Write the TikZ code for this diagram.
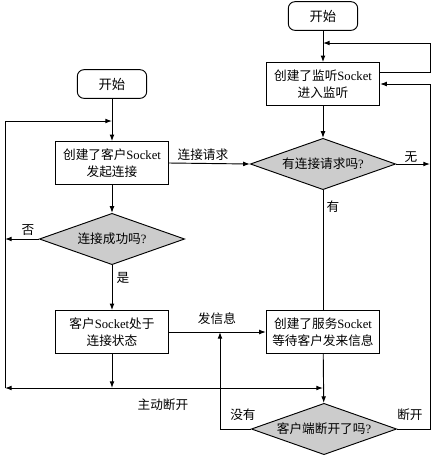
\documentclass[tikz,border=0pt]{standalone}
\usepackage{fontspec}
\setmainfont{Liberation Serif}
\newfontfamily\zh{Noto Sans CJK SC}
\usetikzlibrary{shapes.geometric,arrows.meta}

\begin{document}
\begin{tikzpicture}[x=0.75pt, y=-0.75pt]
    \tikzstyle{box}=[rectangle, draw=black, line width=0.7pt, fill=white, minimum width=85pt, minimum height=32pt, inner sep=1pt, align=center, font=\fontsize{9.5}{12.5}\selectfont]
    \tikzstyle{startbox}=[rectangle, rounded corners=5pt, draw=black, line width=0.7pt, minimum width=52pt, minimum height=21.5pt, inner sep=1pt, font=\fontsize{10}{12}\selectfont]
    \tikzstyle{decide}=[diamond, aspect=2.8, draw=black, line width=0.7pt, fill=black!20, minimum width=109pt, minimum height=38.5pt, inner sep=0pt, font=\fontsize{9.5}{12}\selectfont]
    \tikzstyle{arr}=[line width=0.7pt, -{Latex[length=5pt, width=3.6pt]}]
    \tikzstyle{line}=[line width=0.7pt]
    \tikzstyle{lbl}=[font=\fontsize{9.5}{12}\selectfont, inner sep=0pt]

    \useasboundingbox (0,0) rectangle (436,455);

    % server side
    \node[startbox] (sstart) at (323,16) {\zh 开始};
    \node[box] (listen) at (323,84) {{\zh 创建了监听}Socket\\{\zh 进入监听}};
    \node[decide] (askreq) at (323,164) {{\zh 有连接请求吗}?};
    \node[box] (serve) at (323,332) {{\zh 创建了服务}Socket\\{\zh 等待客户发来信息}};
    \node[decide] (askoff) at (324,429) {{\zh 客户端断开了吗}?};

    % client side
    \node[startbox] (cstart) at (112,84) {\zh 开始};
    \node[box] (client) at (112,163) {{\zh 创建了客户}Socket\\{\zh 发起连接}};
    \node[decide] (askok) at (112,239) {{\zh 连接成功吗}?};
    \node[box] (linked) at (112,332) {{\zh 客户}Socket{\zh 处于}\\{\zh 连接状态}};

    \coordinate (ltop) at (112,121);
    \coordinate (lbot) at (5,388);
    \coordinate (split) at (112,388);
    \coordinate (merge) at (323,388);
    \coordinate (stop) at (323,43);
    \coordinate (rbot) at (430,429);
    \coordinate (rtop) at (430,84);

    \draw[arr] (sstart) -- (listen);
    \draw[arr] (listen.east |- 0,72) -| (430,43) -- (stop);
    \draw[arr] (listen) -- (askreq);
    \draw[line] (askreq) -- (serve);
    \draw[arr] (askreq.east) -- (rtop |- askreq.east);
    \draw[arr] (serve) -- (askoff);
    \draw[arr] (askoff.east) -- (rbot) -- (rtop) -- (listen.east);
    \draw[arr] (askoff.west) -| (220,332);

    \draw[arr] (cstart) -- (client);
    \draw[arr] (lbot) |- (ltop);
    \draw[arr] (client.east) -- (askreq.west);
    \draw[arr] (client) -- (askok);
    \draw[arr] (askok.west) -- (lbot |- askok.west);
    \draw[arr] (askok) -- (linked);
    \draw[arr] (linked.east) -- (serve.west);
    \draw[arr] (linked) -- (split);
    \draw[arr] (split) -- (lbot);
    \draw[arr] (split) -- (merge);

    \node[lbl] (lreq) at (203,155) {\zh 连接请求};
    \node[lbl] (lnone) at (411,157) {\zh 无};
    \node[lbl] (lhas) at (333,207) {\zh 有};
    \node[lbl] (lno) at (28,230) {\zh 否};
    \node[lbl] (lyes) at (123,278) {\zh 是};
    \node[lbl] (lsend) at (217,319) {\zh 发信息};
    \node[lbl] (lquit) at (163,405) {\zh 主动断开};
    \node[lbl] (lnot) at (243,415) {\zh 没有};
    \node[lbl] (loff) at (410,415) {\zh 断开};
\end{tikzpicture}
\end{document}
